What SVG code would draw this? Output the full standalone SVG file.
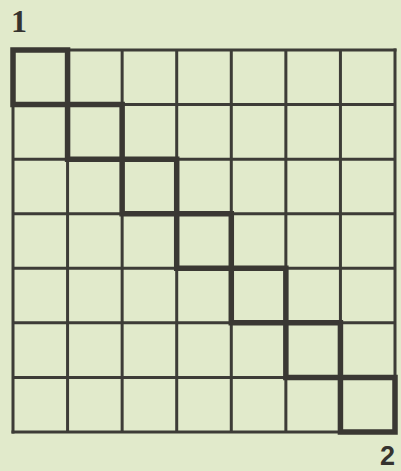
<svg xmlns="http://www.w3.org/2000/svg" width="401" height="471" viewBox="0 0 401 471">
<style>
.thin{stroke:#3d3c37;stroke-width:3;fill:none}
.thick{stroke:#3a3833;stroke-width:5.5;fill:none;stroke-linejoin:miter;stroke-linecap:square}
.lbl{fill:#35332f;font-weight:bold}
</style>
<rect x="0" y="0" width="401" height="471" fill="#e1eacb"/>
<g id="grid" class="thin">
<path d="M13,48.5V433.5 M67.57,50V432 M122.14,50V432 M176.71,50V432 M231.29,50V432 M285.86,50V432 M340.43,50V432 M395,48.5V433.5"/>
<path d="M11.5,50H396.5 M13,104.57H395 M13,159.14H395 M13,213.71H395 M13,268.29H395 M13,322.86H395 M13,377.43H395 M11.5,432H396.5"/>
</g>
<g id="diagonal">
<path class="thick" d="M13,50H67.57V104.57H122.14V159.14H176.71V213.71H231.29V268.29H285.86V322.86H340.43V377.43H395V432H340.43V377.43H285.86V322.86H231.29V268.29H176.71V213.71H122.14V159.14H67.57V104.57H13Z"/>
</g>
<g id="labels">
<text class="lbl" x="11" y="32" font-family="'Liberation Serif', serif" font-size="32">1</text>
<text class="lbl" x="380" y="465" font-family="'Liberation Sans', sans-serif" font-size="27">2</text>
</g>
</svg>
